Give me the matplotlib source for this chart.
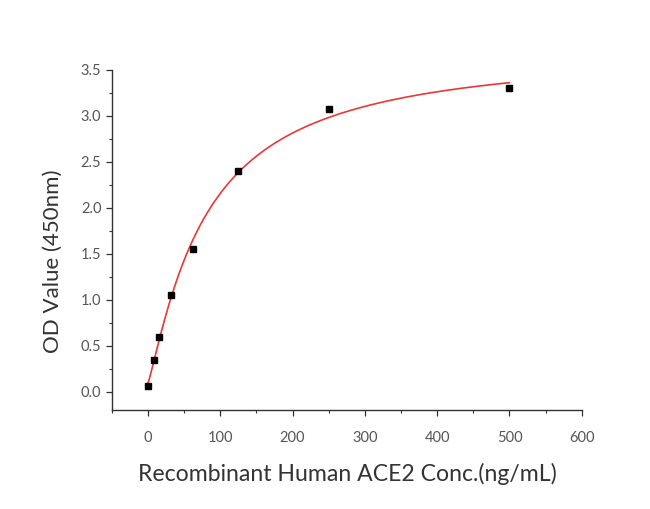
import numpy as np
import matplotlib
matplotlib.use("Agg")
import matplotlib.pyplot as plt
from matplotlib.ticker import MultipleLocator

# Data
conc = [0, 7.8, 15.6, 31.25, 62.5, 125, 250, 500]
od = [0.06, 0.34, 0.59, 1.05, 1.55, 2.40, 3.08, 3.30]
xticks = [0, 100, 200, 300, 400, 500, 600]
yticks = [0.0, 0.5, 1.0, 1.5, 2.0, 2.5, 3.0, 3.5]

# 4-parameter logistic fit (grid search over B, C; linear LSQ for A, D)
x = np.array(conc, float)
y = np.array(od, float)
best = None
for B in np.linspace(0.5, 2.5, 201):
    for C in np.linspace(20, 400, 381):
        f = (x / C) ** B
        f = f / (1 + f)
        M = np.vstack([np.ones_like(f), f]).T
        coef, res, *_ = np.linalg.lstsq(M, y, rcond=None)
        r = np.sum((M @ coef - y) ** 2)
        if best is None or r < best[0]:
            best = (r, B, C, coef)
_, B, C, coef = best
xs = np.linspace(0, 500, 400)
fs = (xs / C) ** B
fs = fs / (1 + fs)
ys = coef[0] + coef[1] * fs

FONT = "Lato"
fig = plt.figure(figsize=(6.5, 5.09), dpi=100)
ax = fig.add_axes([0.172, 0.1945, 0.723, 0.668])
ax.plot(xs, ys, color="#e83838", lw=1.2, zorder=2)
ax.plot(conc, od, "s", color="black", ms=5, zorder=3)

ax.set_xlim(-50, 600)
ax.set_ylim(-0.2, 3.5)
ax.set_xticks(xticks)
ax.set_yticks(yticks)
ax.set_yticklabels([f"{v:.1f}" for v in yticks])
ax.xaxis.set_minor_locator(MultipleLocator(50))
ax.yaxis.set_minor_locator(MultipleLocator(0.25))
for s in ["top", "right"]:
    ax.spines[s].set_visible(False)
for s in ["left", "bottom"]:
    ax.spines[s].set_color("#333333")
    ax.spines[s].set_linewidth(1.0)
ax.tick_params(which="major", direction="out", length=4, width=0.9,
               colors="#333333", labelcolor="#555555", labelsize=10.5)
ax.tick_params(which="minor", direction="out", length=2.5, width=0.8, colors="#333333")
ax.tick_params(axis="x", which="major", pad=11)
for lab in ax.get_xticklabels() + ax.get_yticklabels():
    lab.set_family(FONT)

ax.set_xlabel("Recombinant Human ACE2 Conc.(ng/mL)", fontsize=16.6,
              family=FONT, color="#333333", va="top")
ax.xaxis.set_label_coords(0.501, -0.155)
ax.set_ylabel("OD Value (450nm)", fontsize=16, family=FONT,
              color="#333333")
ax.yaxis.set_label_coords(-0.104, 0.438)

fig.savefig("out.png", dpi=100, facecolor="white")
